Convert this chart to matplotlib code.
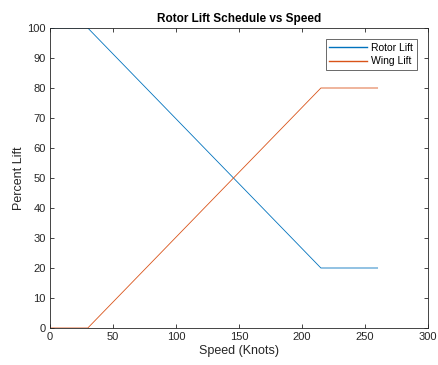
import matplotlib
matplotlib.use('Agg')
import matplotlib.pyplot as plt

# Données
speed = [0, 30, 215, 260]
rotor_lift = [100, 100, 20, 20]
wing_lift = [0, 0, 80, 80]

plt.rcParams['font.family'] = ['Liberation Sans', 'DejaVu Sans']

fig = plt.figure(figsize=(4.38, 3.65), dpi=100)
ax = fig.add_axes([50 / 438, 37 / 365, 378 / 438, 300 / 365])

ax.plot(speed, rotor_lift, color='#0072BD', lw=0.6, label='Rotor Lift')
ax.plot(speed, wing_lift, color='#D95319', lw=0.6, label='Wing Lift')

ax.set_xlim(0, 300)
ax.set_ylim(0, 100)
ax.set_xticks(range(0, 301, 50))
ax.set_yticks(range(0, 101, 10))
ax.tick_params(direction='in', length=3, width=0.6, labelsize=8,
               colors='#262626', top=True, right=True, pad=3)
for s in ax.spines.values():
    s.set_linewidth(0.6)
    s.set_color('#262626')

ax.set_title('Rotor Lift Schedule vs Speed', fontsize=8.5, fontweight='bold', pad=4)
ax.set_xlabel('Speed (Knots)', fontsize=9, color='#262626', labelpad=2)
ax.set_ylabel('Percent Lift', fontsize=9, color='#262626', labelpad=2)

leg = ax.legend(loc='upper right', fontsize=7.5, frameon=True, fancybox=False,
                edgecolor='#262626', handlelength=3.6, borderaxespad=1.1,
                borderpad=0.35, labelspacing=0.3, handletextpad=0.4)
leg.get_frame().set_linewidth(0.6)
for line in leg.get_lines():
    line.set_linewidth(1.0)

fig.savefig('out.png', dpi=100)
